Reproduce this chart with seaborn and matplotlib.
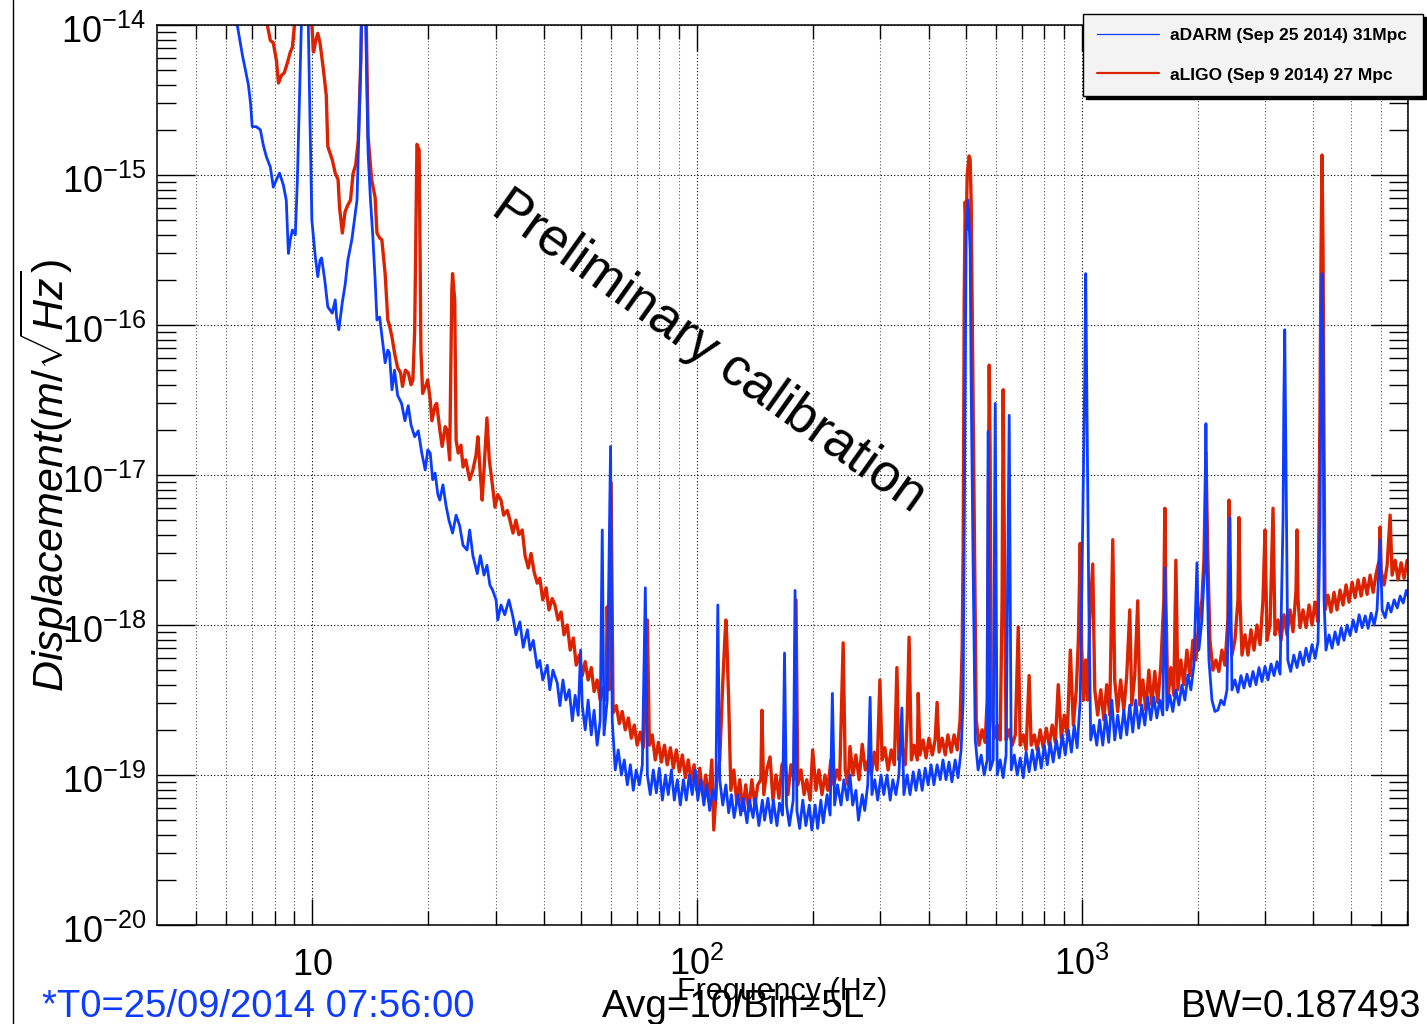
import numpy as np
import pandas as pd
import matplotlib
matplotlib.use("Agg")
import matplotlib.pyplot as plt
import matplotlib.transforms as mtransforms
from matplotlib import font_manager
from matplotlib.lines import Line2D
from matplotlib.ticker import FixedLocator, NullFormatter
import seaborn as sns

# ---------------- data (frequency [Hz], displacement [m/sqrt(Hz)]) ----------------
adarm_points = [
    (6.0, 2.5e-14), (6.40, 1.0e-14), (6.60, 6.3e-15), (6.72, 5.0e-15), (6.84, 4.0e-15), (6.93, 3.0e-15), (7.00, 2.1e-15), (7.17, 2.1e-15), (7.35, 2.0e-15), (7.48, 1.58e-15),
    (7.62, 1.32e-15), (7.80, 1.13e-15), (7.94, 8.3e-16), (8.09, 9.3e-16), (8.24, 1.03e-15), (8.43, 8.6e-16), (8.58, 6.8e-16), (8.69, 3.0e-16), (8.79, 3.7e-16), (8.90, 4.3e-16),
    (9.06, 4.0e-16), (9.17, 9.3e-16), (9.28, 3.16e-15), (9.39, 1.0e-14), (9.55, 3.0e-14), (9.79, 1.0e-14), (9.88, 2.6e-15), (10.0, 5.0e-16), (10.2, 2.9e-16), (10.36, 2.1e-16),
    (10.5, 2.7e-16), (10.6, 2.8e-16), (10.8, 2.0e-16), (11.0, 1.32e-16), (11.3, 1.2e-16), (11.5, 1.47e-16), (11.6, 1.11e-16), (11.75, 9.3e-17), (12.0, 1.42e-16), (12.2, 1.85e-16),
    (12.4, 2.7e-16), (12.7, 3.7e-16), (12.9, 5.0e-16), (13.1, 6.8e-16), (13.2, 1.4e-15), (13.4, 5.8e-15), (13.55, 3.0e-14), (13.8, 1.0e-14), (14.0, 1.4e-15), (14.2, 6.8e-16),
    (14.4, 3.9e-16), (14.6, 2.0e-16), (14.76, 1.08e-16), (15.0, 1.13e-16), (15.3, 7.4e-17), (15.5, 5.6e-17), (15.75, 6.8e-17), (15.9, 6.5e-17), (16.15, 3.7e-17), (16.4, 5.0e-17),
    (16.7, 3.4e-17), (17.1, 3.0e-17), (17.45, 2.3e-17), (17.8, 2.9e-17), (18.1, 2.15e-17), (18.5, 1.8e-17), (18.9, 1.97e-17), (19.3, 1.4e-17), (19.7, 1.08e-17), (20.0, 1.47e-17),
    (20.3, 1.4e-17), (20.6, 9.3e-18), (20.9, 1.03e-17), (21.25, 7.4e-18), (21.5, 6.8e-18), (21.9, 8.6e-18), (22.3, 6.3e-18), (22.7, 5.0e-18), (23.2, 4.1e-18), (23.7, 5.4e-18),
    (24.2, 4.6e-18), (24.7, 3.4e-18), (25.3, 3.16e-18), (25.7, 4.3e-18), (26.2, 2.9e-18), (26.9, 2.2e-18), (27.4, 2.9e-18), (28.0, 2.15e-18), (28.5, 2.5e-18), (29.0, 1.85e-18),
    (29.5, 1.7e-18), (30.1, 1.47e-18), (30.4, 1.08e-18), (31.0, 1.36e-18), (31.7, 1.17e-18), (32.5, 1.47e-18), (33.3, 1.13e-18), (33.9, 8.6e-19), (34.7, 1.05e-18), (35.4, 7.1e-19),
    (36.3, 9.3e-19), (36.9, 6.8e-19), (37.6, 7.9e-19), (38.5, 5.2e-19), (39.1, 5.8e-19), (39.8, 4.3e-19), (40.9, 5.4e-19), (41.5, 3.7e-19), (42.3, 5.0e-19), (43.4, 4.1e-19),
    (44.1, 2.9e-19), (44.9, 4.3e-19), (45.7, 3.16e-19), (46.6, 3.7e-19), (47.5, 2.3e-19), (48.3, 3.4e-19), (49.2, 2.5e-19), (49.9, 6.8e-19), (50.4, 2.9e-19), (51.3, 2.0e-19),
    (52.2, 3.16e-19), (53.2, 1.85e-19), (54.1, 2.7e-19), (55.1, 1.58e-19), (56.1, 2.3e-19), (56.8, 4.3e-18), (57.4, 1.85e-19), (58.5, 3.16e-19), (59.7, 1.55e-17), (60.3, 2.3e-19),
    (61.4, 1.08e-19), (62.5, 1.47e-19), (63.7, 1.0e-19), (64.8, 1.26e-19), (66.0, 8.6e-20), (67.2, 1.17e-19), (68.4, 7.9e-20), (69.6, 1.08e-19), (70.9, 8.6e-20), (72.2, 1.17e-19),
    (73.5, 1.77e-18), (74.4, 1.0e-19), (75.7, 7.4e-20), (77.1, 1.08e-19), (78.5, 7.6e-20), (79.9, 1.11e-19), (81.4, 6.8e-20), (82.9, 1.0e-19), (84.3, 7.4e-20), (85.9, 1.08e-19),
    (87.4, 6.8e-20), (89.0, 9.3e-20), (90.6, 6.3e-20), (92.3, 9.3e-20), (93.9, 6.8e-20), (95.6, 1.0e-19), (97.3, 7.4e-20), (99.1, 1.08e-19), (100.6, 6.8e-20), (102.4, 9.3e-20),
    (104.3, 6.3e-20), (106, 8.6e-20), (108, 5.8e-20), (110, 7.9e-20), (112, 6.8e-20), (113.4, 1.36e-18), (114.7, 9.3e-20), (116.8, 6.3e-20), (119, 8.6e-20), (121, 5.6e-20),
    (123, 7.4e-20), (125, 5.2e-20), (128, 7.4e-20), (130, 5.4e-20), (132, 7.0e-20), (135, 4.8e-20), (137, 6.8e-20), (140, 5.2e-20), (142, 7.0e-20), (145, 4.6e-20),
    (148, 6.8e-20), (150, 5.0e-20), (153, 7.0e-20), (156, 4.8e-20), (158, 6.8e-20), (161.5, 4.6e-20), (164, 6.5e-20), (167, 5.4e-20), (169, 6.5e-19), (171, 6.3e-20),
    (174, 4.6e-20), (178, 6.8e-20), (180, 1.7e-18), (182, 5.8e-20), (185, 4.4e-20), (188.5, 6.8e-20), (192, 4.6e-20), (196, 6.3e-20), (199, 4.3e-20), (203, 6.3e-20),
    (206, 4.4e-20), (210, 6.8e-20), (213, 4.8e-20), (218, 7.4e-20), (222, 5.4e-20), (225, 3.5e-19), (228, 6.3e-20), (232, 8.6e-20), (237, 6.3e-20), (241, 9.3e-20),
    (246, 6.8e-20), (250, 1.0e-19), (254, 6.3e-20), (259, 7.9e-20), (263, 5.0e-20), (269, 7.4e-20), (273, 5.8e-20), (278, 8.6e-20), (282, 3.3e-19), (285, 7.4e-20),
    (290, 9.3e-20), (295, 6.8e-20), (301, 1.0e-19), (306, 7.4e-20), (312, 1.0e-19), (318, 6.8e-20), (323, 9.3e-20), (329, 7.4e-20), (335, 1.0e-19), (341, 2.8e-19),
    (345, 7.4e-20), (352, 1.0e-19), (358, 7.4e-20), (365, 1.05e-19), (371, 7.9e-20), (378, 1.08e-19), (385, 7.9e-20), (392, 1.11e-19), (399, 8.6e-20), (406, 1.17e-19),
    (413, 8.6e-20), (421, 1.17e-19), (429, 9.3e-20), (436, 1.26e-19), (444, 9.3e-20), (452, 1.22e-19), (460, 9.0e-20), (469, 1.26e-19), (477, 9.6e-20), (486, 1.47e-19),
    (492, 3.16e-19), (498, 4.3e-17), (501, 4.3e-16), (507, 6.8e-16), (513, 3.16e-16), (516, 4.3e-17), (522, 2.7e-18), (529, 1.71e-19), (538, 1.08e-19), (548, 1.36e-19),
    (558, 1.0e-19), (568, 1.26e-19), (571, 1.95e-17), (578, 1.08e-19), (589, 1.26e-19), (596, 3.0e-17), (603, 1.0e-19), (614, 1.26e-19), (625, 9.6e-20), (636, 1.36e-19),
    (648, 2.5e-17), (656, 1.08e-19), (668, 1.36e-19), (680, 1.0e-19), (692, 1.3e-19), (705, 9.6e-20), (717, 1.42e-19), (730, 1.05e-19), (744, 1.47e-19), (757, 1.08e-19),
    (771, 1.52e-19), (785, 1.11e-19), (799, 1.58e-19), (814, 1.17e-19), (828, 1.65e-19), (843, 1.22e-19), (859, 1.71e-19), (874, 1.3e-19), (890, 1.85e-19), (906, 1.36e-19),
    (923, 2.0e-19), (940, 1.42e-19), (956, 2.15e-19), (973, 1.52e-19), (991, 3.16e-19), (1006, 5.0e-18), (1018, 4.3e-17), (1024, 2.2e-16), (1030, 4.3e-17), (1043, 1.47e-18),
    (1055, 1.71e-19), (1074, 2.15e-19), (1094, 1.58e-19), (1113, 2.33e-19), (1134, 1.58e-19), (1154, 2.51e-19), (1175, 1.65e-19), (1197, 3.16e-19), (1218, 1.71e-19), (1240, 2.51e-19),
    (1262, 1.76e-19), (1286, 2.71e-19), (1309, 1.85e-19), (1333, 2.93e-19), (1357, 1.93e-19), (1381, 3.16e-19), (1406, 2.05e-19), (1432, 2.93e-19), (1458, 2.15e-19), (1484, 3.3e-19),
    (1511, 2.33e-19), (1539, 3.3e-19), (1567, 2.4e-19), (1595, 3.16e-19), (1624, 2.51e-19), (1644, 2.4e-18), (1664, 2.71e-19), (1694, 3.41e-19), (1724, 2.65e-19), (1756, 3.69e-19),
    (1788, 2.93e-19), (1820, 3.98e-19), (1853, 3.16e-19), (1887, 4.64e-19), (1921, 3.69e-19), (1956, 5.41e-19), (1992, 2.6e-18), (2015, 6.81e-19), (2052, 1.08e-18), (2089, 2.7e-18),
    (2102, 2.2e-17), (2114, 2.7e-18), (2140, 5.84e-19), (2179, 3.16e-19), (2218, 2.65e-19), (2258, 2.71e-19), (2300, 3.16e-19), (2342, 2.93e-19), (2384, 3.69e-19), (2427, 5.2e-18),
    (2456, 3.69e-19), (2500, 4.3e-19), (2546, 3.56e-19), (2592, 4.6e-19), (2639, 3.8e-19), (2687, 4.7e-19), (2736, 3.9e-19), (2785, 4.9e-19), (2836, 4.0e-19), (2887, 5.2e-19),
    (2939, 4.2e-19), (2993, 5.3e-19), (3047, 4.3e-19), (3103, 5.5e-19), (3159, 4.6e-19), (3216, 5.7e-19), (3275, 4.7e-19), (3334, 5.0e-18), (3350, 3.16e-17), (3368, 9.3e-17),
    (3390, 1.47e-17), (3430, 5.84e-19), (3490, 4.9e-19), (3555, 6.3e-19), (3625, 5.2e-19), (3690, 6.6e-19), (3760, 5.4e-19), (3825, 7.0e-19), (3895, 5.7e-19), (3965, 7.4e-19),
    (4040, 6.0e-19), (4110, 7.7e-19), (4160, 5.0e-18), (4185, 6.8e-17), (4210, 2.2e-16), (4235, 6.8e-17), (4260, 1.47e-18), (4310, 6.8e-19), (4390, 8.6e-19), (4470, 7.0e-19),
    (4550, 9.0e-19), (4635, 7.4e-19), (4720, 9.6e-19), (4800, 7.9e-19), (4890, 1.0e-18), (4980, 8.5e-19), (5070, 1.08e-18), (5160, 9.0e-19), (5255, 1.17e-18), (5350, 9.6e-19),
    (5450, 1.15e-18), (5545, 9.5e-19), (5645, 1.2e-18), (5750, 1.0e-18), (5850, 1.26e-18), (5960, 3.7e-18), (6030, 1.26e-18), (6140, 1.12e-18), (6250, 1.4e-18), (6360, 1.22e-18),
    (6480, 1.47e-18), (6600, 1.3e-18), (6720, 1.56e-18), (6840, 1.4e-18), (6970, 1.7e-18), (7100, 1.47e-18),
]

aligo_points = [
    (7.44, 2.5e-14), (7.66, 1.0e-14), (7.80, 7.9e-15), (7.94, 7.6e-15), (8.09, 5.8e-15), (8.19, 4.1e-15), (8.33, 4.6e-15), (8.48, 4.8e-15), (8.64, 5.6e-15), (8.79, 6.6e-15),
    (8.90, 7.1e-15), (9.01, 1.0e-14), (9.17, 3.0e-14), (9.84, 2.5e-14), (10.0, 1.0e-14), (10.1, 6.6e-15), (10.24, 7.9e-15), (10.36, 8.8e-15), (10.5, 7.6e-15), (10.7, 5.2e-15),
    (10.9, 3.4e-15), (11.0, 1.55e-15), (11.3, 1.26e-15), (11.5, 1.03e-15), (11.7, 9.3e-16), (11.8, 6.1e-16), (12.0, 4.1e-16), (12.2, 5.7e-16), (12.4, 6.3e-16), (12.6, 6.8e-16),
    (12.8, 1.03e-15), (13.0, 1.17e-15), (13.2, 1.7e-15), (13.4, 5.8e-15), (13.55, 3.0e-14), (13.85, 1.0e-14), (14.0, 1.8e-15), (14.3, 9.3e-16), (14.6, 7.1e-16), (14.76, 4.1e-16),
    (15.0, 3.8e-16), (15.2, 3.7e-16), (15.5, 2.2e-16), (15.75, 1.08e-16), (15.9, 1.0e-16), (16.15, 8.3e-17), (16.4, 6.5e-17), (16.7, 5.2e-17), (17.0, 4.8e-17), (17.2, 3.9e-17),
    (17.5, 5.0e-17), (17.8, 4.8e-17), (18.1, 4.0e-17), (18.3, 4.3e-17), (18.5, 9.3e-17), (18.75, 1.6e-15), (19.0, 1.47e-15), (19.2, 6.8e-17), (19.4, 3.5e-17), (19.8, 4.0e-17),
    (20.0, 4.3e-17), (20.3, 3.16e-17), (20.5, 2.3e-17), (20.9, 2.9e-17), (21.1, 3.0e-17), (21.5, 2.0e-17), (21.8, 1.55e-17), (22.2, 2.1e-17), (22.45, 2.0e-17), (22.8, 1.26e-17),
    (23.1, 1.7e-16), (23.2, 2.2e-16), (23.5, 1.47e-16), (23.7, 1.7e-17), (24.0, 1.4e-17), (24.4, 1.58e-17), (24.7, 1.13e-17), (25.1, 1.26e-17), (25.7, 9.3e-18), (26.2, 1.08e-17),
    (26.7, 1.36e-17), (27.0, 1.8e-17), (27.4, 1.0e-17), (27.7, 6.8e-18), (28.0, 1.08e-17), (28.5, 2.4e-17), (28.9, 1.26e-17), (29.4, 8.9e-18), (29.9, 6.1e-18), (30.4, 7.4e-18),
    (31.0, 6.8e-18), (31.5, 5.4e-18), (32.2, 5.8e-18), (32.7, 5.0e-18), (33.3, 4.1e-18), (33.9, 5.0e-18), (34.5, 4.0e-18), (35.2, 4.3e-18), (35.8, 2.9e-18), (36.5, 2.4e-18),
    (37.1, 3.0e-18), (37.8, 2.25e-18), (38.5, 1.9e-18), (39.1, 2.05e-18), (39.8, 1.47e-18), (40.6, 1.77e-18), (41.3, 1.26e-18), (42.1, 1.5e-18), (42.8, 1.36e-18), (43.6, 1.08e-18),
    (44.4, 1.22e-18), (45.2, 8.6e-19), (46.1, 1.0e-18), (46.9, 6.8e-19), (47.8, 8.2e-19), (48.6, 5.4e-19), (49.5, 6.3e-19), (50.4, 4.6e-19), (51.3, 5.7e-19), (52.2, 4.3e-19),
    (53.2, 5.2e-19), (54.1, 3.6e-19), (55.1, 4.3e-19), (56.1, 3.16e-19), (57.1, 3.8e-19), (58.1, 3.16e-19), (58.5, 1.32e-18), (59.2, 3.7e-19), (59.9, 8.9e-18), (60.6, 2.6e-19),
    (61.8, 2.9e-19), (62.9, 2.2e-19), (64.0, 2.65e-19), (65.2, 2.0e-19), (66.4, 2.4e-19), (67.6, 1.76e-19), (68.8, 2.15e-19), (70.0, 1.58e-19), (71.3, 1.93e-19), (72.6, 1.52e-19),
    (73.5, 3.16e-19), (74.4, 1.08e-18), (75.3, 1.58e-19), (76.6, 1.85e-19), (78.0, 1.26e-19), (79.5, 1.65e-19), (80.9, 1.22e-19), (82.4, 1.58e-19), (83.8, 1.17e-19), (85.4, 1.52e-19),
    (86.9, 1.11e-19), (88.5, 1.47e-19), (90.1, 1.05e-19), (91.7, 1.36e-19), (93.4, 9.6e-20), (95.0, 1.26e-19), (96.7, 9.0e-20), (98.4, 1.17e-19), (100.0, 7.9e-20), (101.8, 1.11e-19),
    (103.6, 7.4e-20), (105.5, 1.0e-19), (107.4, 6.8e-20), (109.4, 1.26e-19), (110.7, 4.3e-20), (112.7, 9.3e-20), (114.7, 1.26e-19), (116.8, 4.1e-19), (118.2, 7.9e-19), (119.0, 1.08e-18),
    (119.7, 7.9e-19), (121.0, 3.16e-19), (122.6, 7.9e-20), (124.8, 1.08e-19), (127.0, 6.5e-20), (129.3, 9.3e-20), (131.7, 5.8e-20), (134.0, 8.6e-20), (136.5, 5.8e-20), (139.0, 9.3e-20),
    (141.5, 6.3e-20), (144.0, 8.6e-20), (146.7, 9.3e-20), (147.6, 2.7e-19), (149.3, 7.4e-20), (152.0, 1.08e-19), (155.0, 1.32e-19), (157.7, 6.8e-20), (160.6, 1.0e-19), (163.5, 7.0e-20),
    (166.4, 1.17e-19), (169.5, 1.26e-19), (172.5, 7.4e-20), (175.6, 1.17e-19), (178.8, 9.3e-20), (181.0, 1.47e-18), (183.0, 8.6e-20), (186.5, 1.08e-19), (190.0, 7.4e-20), (193.0, 9.3e-20),
    (197.0, 6.8e-20), (200.0, 1.47e-19), (204.0, 7.9e-20), (207.6, 1.08e-19), (211.4, 7.4e-20), (215.3, 1.0e-19), (219.0, 7.9e-20), (223.0, 1.26e-19), (227.0, 8.6e-20), (231.0, 1.08e-19),
    (235.0, 9.3e-20), (240.0, 7.6e-19), (243.0, 1.08e-19), (247.0, 8.6e-20), (250.0, 1.55e-19), (254.5, 1.0e-19), (259.0, 1.36e-19), (264.0, 9.3e-20), (269.0, 1.6e-19), (274.0, 1.08e-19),
    (279.0, 1.26e-19), (284.0, 1.0e-19), (289.0, 1.42e-19), (294.0, 1.08e-19), (299.0, 4.3e-19), (303.0, 1.26e-19), (308.0, 1.52e-19), (314.0, 1.08e-19), (320.0, 1.47e-19), (326.0, 1.17e-19),
    (331.0, 5.2e-19), (335.0, 1.26e-19), (341.0, 1.58e-19), (348.0, 1.17e-19), (352.0, 2.33e-19), (356.0, 8.3e-19), (361.0, 1.26e-19), (367.0, 1.58e-19), (374.0, 1.26e-19), (376.0, 3.5e-19),
    (380.0, 1.36e-19), (387.0, 1.71e-19), (394.0, 1.3e-19), (401.0, 1.76e-19), (409.0, 1.36e-19), (416.0, 1.71e-19), (421.0, 3.05e-19), (426.0, 1.42e-19), (434.0, 1.76e-19), (442.0, 1.36e-19),
    (449.0, 1.85e-19), (458.0, 1.42e-19), (466.0, 1.85e-19), (475.0, 1.47e-19), (483.0, 2.33e-19), (489.0, 6.8e-19), (492.0, 3.3e-18), (495.0, 1.47e-16), (498.0, 6.6e-16), (501.0, 4.3e-16),
    (504.0, 1.0e-15), (510.0, 1.34e-15), (513.0, 1.26e-15), (516.0, 6.8e-16), (519.0, 1.47e-16), (525.0, 6.8e-18), (532.0, 2.33e-19), (541.0, 1.58e-19), (551.0, 2.0e-19), (561.0, 1.65e-19),
    (568.0, 3.16e-19), (575.0, 5.4e-17), (578.0, 1.47e-17), (582.0, 3.16e-19), (592.0, 1.76e-19), (603.0, 2.15e-19), (614.0, 1.71e-19), (621.0, 1.47e-18), (625.0, 3.7e-17), (628.0, 6.8e-18),
    (636.0, 1.71e-19), (648.0, 2.0e-19), (660.0, 1.58e-19), (672.0, 1.85e-19), (684.0, 9.7e-19), (692.0, 1.58e-19), (705.0, 1.85e-19), (717.0, 1.47e-19), (730.0, 4.6e-19), (739.0, 1.58e-19),
    (753.0, 1.85e-19), (766.0, 1.47e-19), (780.0, 2.0e-19), (794.0, 1.52e-19), (809.0, 2.05e-19), (823.0, 1.58e-19), (838.0, 2.15e-19), (854.0, 1.65e-19), (869.0, 4.0e-19), (885.0, 1.76e-19),
    (901.0, 2.51e-19), (917.0, 1.85e-19), (934.0, 6.8e-19), (951.0, 2.15e-19), (968.0, 3.7e-19), (980.0, 7.9e-19), (991.0, 3.5e-18), (1000.0, 6.8e-19), (1012.0, 3.16e-19), (1024.0, 5.84e-19),
    (1036.0, 3.16e-19), (1049.0, 1.08e-18), (1068.0, 2.55e-18), (1081.0, 3.7e-19), (1100.0, 2.51e-19), (1121.0, 3.7e-19), (1141.0, 2.33e-19), (1161.0, 4.0e-19), (1182.0, 2.51e-19), (1204.0, 3.7e-18),
    (1218.0, 4.3e-19), (1240.0, 2.65e-19), (1262.0, 4.3e-19), (1286.0, 2.71e-19), (1309.0, 4.6e-19), (1333.0, 1.26e-18), (1349.0, 2.93e-19), (1373.0, 4.6e-19), (1398.0, 1.45e-18), (1415.0, 2.93e-19),
    (1441.0, 4.3e-19), (1467.0, 2.71e-19), (1494.0, 5.0e-19), (1521.0, 2.93e-19), (1548.0, 4.9e-19), (1576.0, 3.05e-19), (1605.0, 5.4e-19), (1634.0, 1.47e-18), (1644.0, 6.0e-18), (1654.0, 1.47e-18),
    (1674.0, 3.16e-19), (1704.0, 5.2e-19), (1735.0, 3.4e-19), (1756.0, 2.7e-18), (1777.0, 3.7e-19), (1809.0, 5.84e-19), (1842.0, 4.0e-19), (1876.0, 6.8e-19), (1910.0, 4.6e-19), (1944.0, 7.9e-19),
    (1980.0, 5.84e-19), (2016.0, 1.08e-18), (2052.0, 1.47e-18), (2077.0, 2.7e-18), (2102.0, 1.42e-17), (2127.0, 2.7e-18), (2153.0, 7.9e-19), (2192.0, 5.0e-19), (2231.0, 5.84e-19), (2271.0, 4.9e-19),
    (2313.0, 6.8e-19), (2355.0, 5.4e-19), (2397.0, 1.08e-18), (2412.0, 6.8e-18), (2427.0, 1.08e-18), (2456.0, 6.3e-19), (2500.0, 7.9e-19), (2546.0, 1.47e-18), (2561.0, 5.2e-18), (2577.0, 1.47e-18),
    (2608.0, 6.3e-19), (2655.0, 8.6e-19), (2703.0, 6.3e-19), (2752.0, 9.3e-19), (2802.0, 6.8e-19), (2853.0, 1.0e-18), (2905.0, 7.4e-19), (2957.0, 1.47e-18), (2993.0, 4.3e-18), (3029.0, 7.9e-19),
    (3084.0, 1.0e-18), (3140.0, 6.0e-18), (3177.0, 8.6e-19), (3235.0, 1.08e-18), (3293.0, 7.9e-19), (3353.0, 1.17e-18), (3414.0, 8.6e-19), (3476.0, 1.26e-18), (3539.0, 9.0e-19), (3603.0, 1.71e-18),
    (3625.0, 4.3e-18), (3647.0, 1.47e-18), (3690.0, 9.6e-19), (3757.0, 1.26e-18), (3825.0, 9.6e-19), (3895.0, 1.36e-18), (3966.0, 1.0e-18), (4037.0, 1.42e-18), (4110.0, 1.05e-18), (4160.0, 3.16e-17),
    (4185.0, 3.16e-16), (4210.0, 1.36e-15), (4235.0, 3.16e-16), (4260.0, 1.47e-17), (4285.0, 1.26e-18), (4363.0, 1.58e-18), (4442.0, 1.22e-18), (4522.0, 1.65e-18), (4605.0, 1.26e-18), (4688.0, 1.71e-18),
    (4773.0, 1.36e-18), (4860.0, 1.85e-18), (4948.0, 1.42e-18), (5039.0, 1.93e-18), (5130.0, 1.52e-18), (5223.0, 2.0e-18), (5318.0, 1.56e-18), (5414.0, 2.05e-18), (5512.0, 1.6e-18), (5612.0, 2.15e-18),
    (5714.0, 1.65e-18), (5818.0, 2.2e-18), (5924.0, 2.7e-18), (5960.0, 4.5e-18), (5994.0, 2.3e-18), (6103.0, 1.85e-18), (6214.0, 2.5e-18), (6326.0, 5.4e-18), (6402.0, 2.15e-18), (6518.0, 2.7e-18),
    (6636.0, 2.0e-18), (6757.0, 2.6e-18), (6879.0, 2.05e-18), (7004.0, 2.7e-18), (7130.0, 2.15e-18),
]

legend_labels = ["aDARM (Sep 25 2014) 31Mpc", "aLIGO (Sep 9 2014) 27 Mpc"]
xtick_values = [10, 100, 1000]
xtick_labels = [r"$10$", r"$10^{2}$", r"$10^{3}$"]
ytick_values = [1e-20, 1e-19, 1e-18, 1e-17, 1e-16, 1e-15, 1e-14]
ytick_labels = [r"$10^{-20}$", r"$10^{-19}$", r"$10^{-18}$", r"$10^{-17}$", r"$10^{-16}$", r"$10^{-15}$", r"$10^{-14}$"]
x_minor = [5, 6, 7, 8, 9, 20, 30, 40, 50, 60, 70, 80, 90, 200, 300, 400, 500, 600, 700, 800, 900,
           2000, 3000, 4000, 5000, 6000, 7000]
y_minor = [m * 10.0 ** e for e in range(-20, -14) for m in range(2, 10)]
y_label = r"$Displacement(m/\sqrt{Hz})$"
watermark = "Preliminary calibration"
x_title = "Frequency (Hz)"
info_t0 = "*T0=25/09/2014 07:56:00"
info_avg = "Avg=10/Bin=5L"
info_bw = "BW=0.187493"

BLUE = "#0b3cff"
RED = "#dd2200"

# ---------------- style ----------------
sns.set_theme(style="white")
avail = {f.name for f in font_manager.fontManager.ttflist}
REG = "Liberation Sans" if "Liberation Sans" in avail else "DejaVu Sans"
plt.rcParams["font.family"] = [REG, "DejaVu Sans"]
plt.rcParams["text.color"] = "black"
plt.rcParams["mathtext.fontset"] = "custom"
plt.rcParams["mathtext.rm"] = REG
plt.rcParams["mathtext.it"] = REG + ":italic"
plt.rcParams["mathtext.bf"] = REG + ":bold"

W, H = 1427, 1024
fig = plt.figure(figsize=(W / 100, H / 100), dpi=100)
fig.patch.set_facecolor("white")
ax = fig.add_axes([157 / W, 1 - 925 / H, (1408 - 157) / W, 900 / H])
ax.set_facecolor("white")
ax.set_xscale("log")
ax.set_yscale("log")

df_a = pd.DataFrame(adarm_points, columns=["freq", "disp"])
df_l = pd.DataFrame(aligo_points, columns=["freq", "disp"])
sns.lineplot(data=df_l, x="freq", y="disp", ax=ax, color=RED, linewidth=2.4,
             estimator=None, sort=False, legend=False)
sns.lineplot(data=df_a, x="freq", y="disp", ax=ax, color=BLUE, linewidth=2.0,
             estimator=None, sort=False, legend=False)

ax.set_xlim(3.96, 7040)
ax.set_ylim(1e-20, 1e-14)
ax.set_xlabel("")
ax.set_ylabel("")

ax.xaxis.set_major_locator(FixedLocator(xtick_values))
ax.xaxis.set_minor_locator(FixedLocator(x_minor))
ax.yaxis.set_major_locator(FixedLocator(ytick_values))
ax.yaxis.set_minor_locator(FixedLocator(y_minor))
for axis in (ax.xaxis, ax.yaxis):
    axis.set_major_formatter(NullFormatter())
    axis.set_minor_formatter(NullFormatter())

ax.tick_params(axis="x", which="major", direction="in", length=19, width=1.0,
               top=True, bottom=True, color="black")
ax.tick_params(axis="x", which="minor", direction="in", length=10, width=1.0,
               top=True, bottom=True, color="black")
ax.tick_params(axis="y", which="major", direction="in", length=27, width=1.0,
               left=True, right=True, color="black")
ax.tick_params(axis="y", which="minor", direction="in", length=13.5, width=1.0,
               left=True, right=True, color="black")

ax.grid(True, which="major", axis="both", linestyle=(0, (1, 2)), color="black", linewidth=0.8)
ax.grid(True, which="minor", axis="x", linestyle=(0, (1, 2)), color="0.35", linewidth=0.8)
ax.set_axisbelow(True)
for sp in ax.spines.values():
    sp.set_visible(True)
    sp.set_color("black")
    sp.set_linewidth(1.1)

# tick labels
xtrans = ax.get_xaxis_transform()
for v, t in zip(xtick_values, xtick_labels):
    ax.text(v, -50 / 900, t, transform=xtrans, ha="center", va="baseline", fontsize=26,
            color="black", clip_on=False)
ytrans = mtransforms.offset_copy(ax.get_yaxis_transform(), fig=fig, x=0, y=-18, units="dots")
for v, t in zip(ytick_values, ytick_labels):
    ax.text(-11 / 1251, v, t, transform=ytrans, ha="right", va="baseline", fontsize=26,
            color="black", clip_on=False)

# legend
handles = [Line2D([], [], color=BLUE, lw=0.9), Line2D([], [], color=RED, lw=1.6)]
leg = fig.legend(handles, legend_labels, loc="upper left",
                 bbox_to_anchor=(1083 / W, 1 - 14 / H, 340 / W, 0.0), mode="expand",
                 bbox_transform=fig.transFigure, frameon=True, fancybox=False,
                 shadow={"color": "black", "alpha": 1.0}, edgecolor="black",
                 facecolor="#f3f3f3", framealpha=1.0, borderpad=0.8, labelspacing=1.4,
                 handlelength=3.6, handletextpad=0.6, borderaxespad=0.0,
                 prop={"family": REG, "weight": "bold", "size": 12.5})
leg.get_frame().set_linewidth(1.0)
for txt in leg.get_texts():
    txt.set_color("black")

# texts
fig.text(709 / W, 1 - 352 / H, watermark, family=REG, fontsize=38, rotation=-35.4,
         ha="center", va="center", color="black")
fig.text(46 / W, 1 - 475 / H, y_label, rotation=90, ha="center", va="center", fontsize=31,
         color="black")
fig.text(782 / W, 1 - 1000 / H, x_title, ha="center", va="baseline", fontsize=22, color="black")
fig.text(42 / W, 1 - 1017 / H, info_t0, ha="left", va="baseline", fontsize=27.5, color="#0d3bff")
fig.text(602 / W, 1 - 1017 / H, info_avg, ha="left", va="baseline", fontsize=27.8, color="black")
fig.text(1421 / W, 1 - 1017 / H, info_bw, ha="right", va="baseline", fontsize=27.2, color="black")

# canvas border line at left
fig.add_artist(Line2D([13 / W, 13 / W], [0, 1], transform=fig.transFigure, color="black", lw=1.0))

fig.savefig("out.png", dpi=100, facecolor="white")
